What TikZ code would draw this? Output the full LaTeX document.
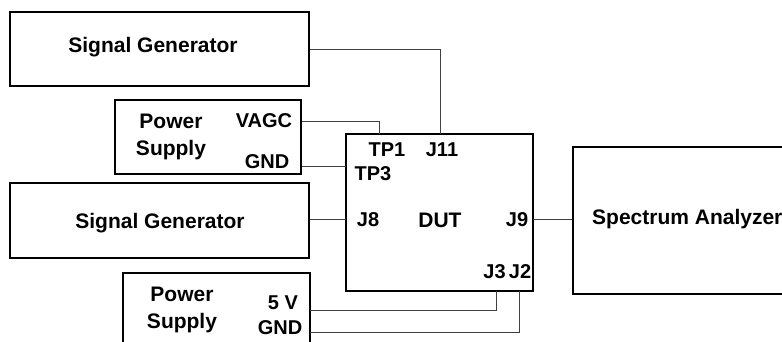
\documentclass[tikz,border=0pt]{standalone}
\usepackage{fontspec}
\setmainfont{Liberation Sans}
\usetikzlibrary{positioning}

\begin{document}
\begin{tikzpicture}[
    x=1pt, y=-1pt,
    box/.style={rectangle, draw, line width=2pt, inner sep=0pt},
    title/.style={inner sep=0pt, align=center, font=\fontsize{21}{27}\selectfont\bfseries},
    port/.style={inner sep=0pt, font=\fontsize{20}{24}\selectfont\bfseries},
    wire/.style={draw=black!75, line width=0.9pt}
]
\useasboundingbox (0,0) rectangle (782,342);
\clip (0,0) rectangle (782,342);

% Upper signal generator
\node[box, minimum width=299pt, minimum height=74pt] (sgA) at (159.5,49) {};
\node[title] (sgAname) at (153,47) {Signal Generator};

% Upper power supply
\node[box, minimum width=186pt, minimum height=74pt] (psA) at (208,137) {};
\node[title] (psAname) at (171,136.5) {Power\\Supply};
\node[port] (vagc) at (264,121) {VAGC};
\node[port] (gndA) at (267,162) {GND};

% Lower signal generator
\node[box, minimum width=299pt, minimum height=75pt] (sgB) at (159.5,220.5) {};
\node[title] (sgBname) at (160,223) {Signal Generator};

% Lower power supply
\node[box, minimum width=187pt, minimum height=80pt] (psB) at (216.5,313) {};
\node[title] (psBname) at (182,310) {Power\\Supply};
\node[port] (fivev) at (283,303) {5 V};
\node[port] (gndB) at (280,328) {GND};

% DUT
\node[box, minimum width=187pt, minimum height=157pt] (dut) at (439.5,212.5) {};
\node[title] (dutname) at (440,220) {DUT};
\node[port] (tp1) at (387,150) {TP1};
\node[port] (j11) at (442,150) {J11};
\node[port] (tp3) at (373,174) {TP3};
\node[port] (j8) at (368,220) {J8};
\node[port] (j9) at (517,220) {J9};
\node[port] (j3) at (494.5,272) {J3};
\node[port] (j2) at (520,272) {J2};

% Spectrum analyzer
\node[box, minimum width=240pt, minimum height=147pt] (spec) at (693,220.5) {};
\node[title, anchor=west] (specname) at (592,219) {Spectrum Analyzer};

% Pins
\coordinate (pinTP1) at (379,134);
\coordinate (pinJ11) at (440,134);
\coordinate (pinTP3) at (346,166);
\coordinate (pinJ8) at (346,219);
\coordinate (pinJ9) at (533,219);
\coordinate (pinJ3) at (496,291);
\coordinate (pinJ2) at (519,291);
\coordinate (out5V) at (310,310);
\coordinate (outGND) at (310,332);

% Wires
\draw[wire] (sgA.east) -| (pinJ11);
\draw[wire] (vagc -| psA.east) -| (pinTP1);
\draw[wire] (pinTP3 -| psA.east) -- (pinTP3);
\draw[wire] (pinJ8 -| sgB.east) -- (pinJ8);
\draw[wire] (pinJ9) -- (pinJ9 -| spec.west);
\draw[wire] (out5V) -| (pinJ3);
\draw[wire] (outGND) -| (pinJ2);

\end{tikzpicture}
\end{document}
